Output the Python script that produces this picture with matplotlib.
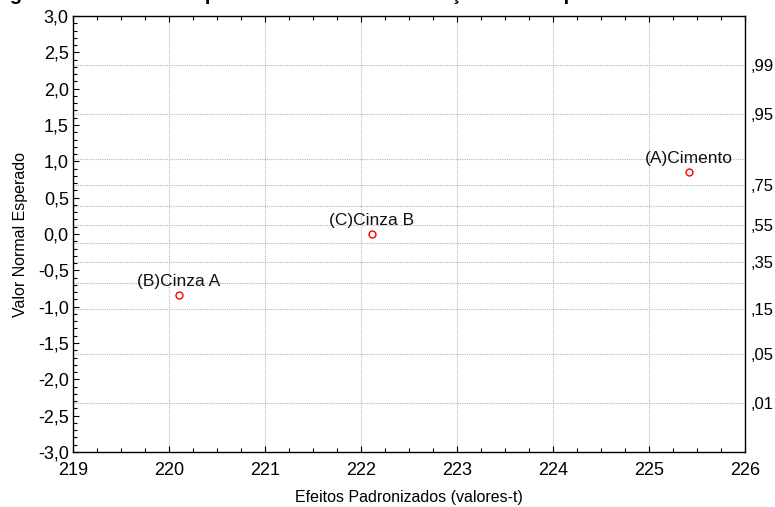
import matplotlib

matplotlib.use("Agg")
import matplotlib.pyplot as plt
from matplotlib.ticker import FixedLocator, FuncFormatter, MultipleLocator

plt.rcParams["font.family"] = ["Liberation Sans", "DejaVu Sans"]
plt.rcParams["font.size"] = 11

# effects (t-values) and expected normal values
LABELS = ["(A)Cimento", "(B)Cinza A", "(C)Cinza B"]
T_VALUES = [225.42, 220.10, 222.11]
EXPECTED = [0.85, -0.84, 0.0]

# cumulative probability grid on the right axis and its normal quantiles
PROB_GRID = [0.01, 0.05, 0.15, 0.25, 0.35, 0.45, 0.55, 0.65, 0.75, 0.85, 0.95, 0.99]
Z_GRID = [-2.326, -1.645, -1.036, -0.674, -0.385, -0.126,
          0.126, 0.385, 0.674, 1.036, 1.645, 2.326]
PROB_LABELED = [0.01, 0.05, 0.15, 0.35, 0.55, 0.75, 0.95, 0.99]

TITLE = "Figura 36 - Gráfico de probabilidade da distribuição normal para a"


def comma(v, _pos=None):
    return f"{v:.1f}".replace(".", ",")


fig = plt.figure(figsize=(7.75, 5.07), dpi=100)
ax = fig.add_axes([0.0942, 0.1085, 0.8671, 0.8599])

ax.plot(T_VALUES, EXPECTED, linestyle="none", marker="o", markersize=5,
        markerfacecolor="white", markeredgecolor="red", markeredgewidth=1.0,
        zorder=3)
for lbl, x, y in zip(LABELS, T_VALUES, EXPECTED):
    ax.annotate(lbl, (x, y), xytext=(0, 10), textcoords="offset points",
                ha="center", va="center", fontsize=12.5, color="#111111")

ax.set_xlim(219, 226)
ax.set_ylim(-3, 3)
ax.xaxis.set_major_locator(MultipleLocator(1))
ax.xaxis.set_minor_locator(MultipleLocator(0.25))
ax.yaxis.set_major_locator(MultipleLocator(0.5))
ax.yaxis.set_minor_locator(MultipleLocator(0.1))
ax.yaxis.set_major_formatter(FuncFormatter(comma))
ax.tick_params(which="both", direction="in", top=True, right=True, color="black",
               labelsize=13)
ax.tick_params(which="major", length=4, width=0.8)
ax.tick_params(which="minor", length=3, width=0.8)
ax.tick_params(axis="x", which="major", pad=7)
ax.tick_params(axis="y", which="major", pad=3)

# grid: integer t-values and the probability quantiles
for xv in range(220, 226):
    ax.axvline(xv, color="#b8b8b8", linestyle=(0, (1, 1)), linewidth=0.8, zorder=0)
for z in Z_GRID:
    ax.axhline(z, color="#b8b8b8", linestyle=(0, (1, 1)), linewidth=0.8, zorder=0)

for s in ax.spines.values():
    s.set_color("black")
    s.set_linewidth(1.0)

ax.set_xlabel("Efeitos Padronizados (valores-t)", fontsize=11.5, labelpad=8)
ax.set_ylabel("Valor Normal Esperado", fontsize=11.5, labelpad=7)

# right axis: probability labels only
ax_r = ax.twinx()
ax_r.set_ylim(ax.get_ylim())
z_lab = [Z_GRID[PROB_GRID.index(p)] for p in PROB_LABELED]
ax_r.yaxis.set_major_locator(FixedLocator(z_lab))
ax_r.set_yticklabels([f"{p:.2f}"[1:].replace(".", ",") for p in PROB_LABELED])
ax_r.tick_params(axis="y", length=0, pad=4, labelsize=12)
for s in ax_r.spines.values():
    s.set_visible(False)

# caption line, clipped by the top edge
fig.text(-8 / 775, 1.0, TITLE, fontsize=14.5, fontweight="bold",
         ha="left", va="baseline")

fig.savefig("out.png", dpi=100)
